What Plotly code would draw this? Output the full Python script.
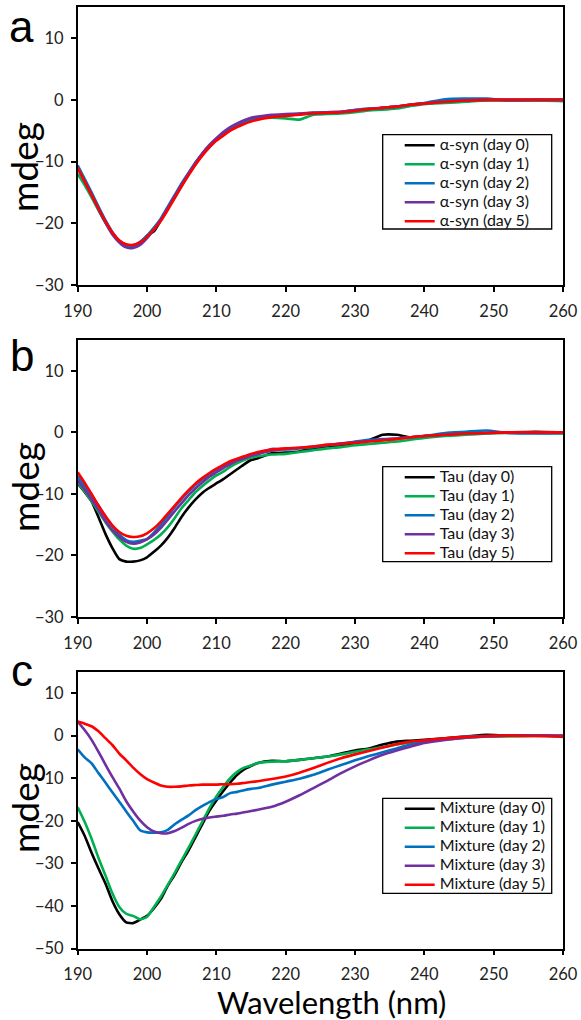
import plotly.graph_objects as go

# ---------------- data ----------------
wavelength = [190, 191, 192, 193, 194, 195, 196, 197, 198, 199, 200, 201, 202, 203, 204,
              205, 206, 207, 208, 209, 210, 211, 212, 213, 214, 215, 216, 218, 220, 222,
              224, 226, 228, 230, 232, 234, 236, 238, 240, 243, 246, 249, 252, 256, 260]

day_labels = ["day 0", "day 1", "day 2", "day 3", "day 5"]
colors = ["#000000", "#00b050", "#0070c0", "#7030a0", "#ff0000"]

# Panel a: alpha-syn
asyn_day0 = [-11.0, -13.2, -15.4, -17.7, -19.8, -21.6, -22.9, -23.6, -23.7, -23.2, -22.0, -21.3, -19.5, -17.6, -15.7,
             -13.8, -12.0, -10.3, -8.8, -7.5, -6.4, -5.5, -4.7, -4.1, -3.6, -3.2, -2.9, -2.5, -2.5, -2.3,
             -2.1, -2.1, -2.0, -1.8, -1.5, -1.3, -1.1, -0.8, -0.6, -0.3, -0.1, 0.0, 0.0, 0.0, 0.0]
asyn_day1 = [-12.0, -13.8, -15.8, -17.9, -19.9, -21.7, -22.9, -23.6, -23.7, -23.3, -22.3, -21.0, -19.5, -17.6, -15.8,
             -13.9, -12.1, -10.4, -8.9, -7.6, -6.5, -5.6, -4.8, -4.2, -3.7, -3.3, -3.0, -2.9, -3.0, -3.2,
             -2.4, -2.3, -2.2, -2.0, -1.7, -1.6, -1.4, -1.0, -0.7, -0.5, -0.3, -0.1, -0.1, -0.1, -0.2]
asyn_day2 = [-10.6, -12.8, -15.0, -17.3, -19.5, -21.4, -22.8, -23.5, -23.6, -23.0, -22.0, -20.7, -19.2, -17.3, -15.4,
             -13.5, -11.8, -10.1, -8.7, -7.4, -6.3, -5.4, -4.6, -4.0, -3.5, -3.1, -2.9, -2.6, -2.4, -2.3,
             -2.2, -2.1, -2.0, -1.6, -1.4, -1.3, -1.1, -0.8, -0.5, 0.1, 0.2, 0.2, -0.1, 0.0, 0.0]
asyn_day3 = [-11.0, -13.2, -15.4, -17.7, -19.9, -21.8, -23.1, -23.9, -24.0, -23.5, -22.4, -21.0, -19.4, -17.5, -15.6,
             -13.7, -11.9, -10.2, -8.6, -7.3, -6.2, -5.2, -4.4, -3.8, -3.3, -2.9, -2.7, -2.4, -2.3, -2.2,
             -2.1, -2.0, -1.9, -1.7, -1.5, -1.3, -1.1, -0.8, -0.6, -0.3, -0.1, 0.0, 0.0, 0.0, 0.0]
asyn_day5 = [-11.0, -13.2, -15.4, -17.6, -19.7, -21.5, -22.8, -23.4, -23.5, -23.1, -22.2, -21.0, -19.6, -17.8, -15.9,
             -14.0, -12.2, -10.5, -9.0, -7.7, -6.6, -5.8, -5.0, -4.4, -3.9, -3.5, -3.2, -2.8, -2.6, -2.4,
             -2.2, -2.1, -2.0, -1.8, -1.5, -1.3, -1.1, -0.8, -0.6, -0.3, -0.1, 0.0, 0.0, 0.0, 0.0]

# Panel b: Tau
tau_day0 = [-8.3, -9.7, -11.2, -13.8, -16.5, -18.8, -20.6, -21.0, -21.0, -20.8, -20.3, -19.4, -18.4, -17.1, -15.5,
            -13.7, -12.2, -10.9, -9.8, -9.0, -8.3, -7.6, -6.8, -6.0, -5.2, -4.5, -4.2, -3.4, -3.3, -3.1,
            -2.6, -2.4, -2.2, -1.8, -1.3, -0.4, -0.4, -0.8, -0.6, -0.4, -0.2, -0.1, 0.0, 0.1, 0.0]
tau_day1 = [-8.1, -9.6, -11.2, -12.9, -14.6, -16.1, -17.4, -18.4, -18.9, -18.8, -18.2, -17.5, -16.6, -15.4, -13.9,
            -12.3, -11.0, -9.7, -8.7, -7.8, -7.0, -6.4, -5.6, -5.0, -4.5, -4.1, -3.9, -3.6, -3.5, -3.2,
            -2.9, -2.6, -2.4, -2.1, -1.9, -1.7, -1.5, -1.2, -0.9, -0.6, -0.4, -0.2, -0.1, -0.1, -0.2]
tau_day2 = [-7.2, -8.7, -10.3, -11.9, -13.7, -15.3, -16.6, -17.5, -17.8, -17.6, -17.3, -16.3, -15.0, -13.6, -12.1,
            -10.8, -9.6, -8.5, -7.6, -6.8, -6.1, -5.5, -5.0, -4.5, -4.1, -3.8, -3.5, -2.7, -2.8, -2.6,
            -2.4, -2.1, -1.9, -1.5, -1.2, -1.1, -1.0, -0.8, -0.6, -0.1, 0.1, 0.3, -0.1, -0.2, -0.1]
tau_day3 = [-7.8, -9.3, -10.9, -12.6, -14.4, -15.9, -17.0, -17.8, -18.1, -17.9, -17.4, -16.6, -15.5, -14.2, -12.8,
            -11.5, -10.2, -9.1, -8.1, -7.2, -6.5, -5.8, -5.2, -4.6, -4.2, -3.8, -3.5, -3.0, -2.7, -2.5,
            -2.3, -2.1, -1.8, -1.6, -1.4, -1.2, -1.0, -0.8, -0.6, -0.4, -0.2, -0.1, 0.0, 0.0, 0.0]
tau_day5 = [-6.5, -8.2, -10.0, -11.9, -13.6, -15.1, -16.2, -16.8, -17.0, -16.9, -16.4, -15.6, -14.5, -13.2, -11.9,
            -10.6, -9.4, -8.3, -7.4, -6.6, -5.9, -5.3, -4.7, -4.3, -3.9, -3.5, -3.2, -2.8, -2.6, -2.5,
            -2.3, -2.0, -1.9, -1.7, -1.5, -1.3, -1.1, -0.8, -0.6, -0.4, -0.2, -0.1, 0.0, 0.0, 0.0]

# Panel c: Mixture
mix_day0 = [-20.3, -23.5, -27.5, -31.2, -34.7, -38.8, -41.9, -43.8, -44.0, -43.2, -42.3, -40.5, -38.3, -35.2, -32.6,
            -29.6, -26.9, -23.8, -20.7, -17.6, -15.2, -13.0, -11.0, -9.2, -7.9, -7.1, -6.4, -5.9, -6.0, -5.7,
            -5.3, -4.9, -4.2, -3.5, -3.0, -2.1, -1.4, -1.2, -1.0, -0.6, -0.2, 0.2, 0.0, 0.1, -0.1]
mix_day1 = [-16.8, -20.2, -24.2, -28.7, -32.8, -37.0, -40.2, -41.8, -42.3, -43.1, -42.5, -40.2, -37.8, -35.0, -32.2,
            -29.2, -26.3, -23.2, -20.1, -17.0, -14.3, -12.0, -10.0, -8.5, -7.5, -7.0, -6.4, -6.1, -6.0, -5.7,
            -5.3, -4.9, -4.4, -3.8, -3.2, -2.7, -2.1, -1.6, -1.2, -0.9, -0.5, -0.2, -0.2, -0.1, -0.1]
mix_day2 = [-3.2, -5.1, -6.5, -8.8, -11.0, -13.3, -15.5, -17.8, -20.0, -22.2, -22.7, -22.8, -22.7, -22.1, -20.8,
            -19.7, -18.7, -17.5, -16.5, -15.6, -14.9, -14.4, -13.5, -13.2, -12.8, -12.5, -12.3, -11.5, -10.8, -10.1,
            -9.2, -8.0, -6.9, -5.8, -4.8, -3.9, -3.0, -2.1, -1.5, -0.8, -0.2, -0.1, 0.0, 0.1, -0.3]
mix_day3 = [3.3, 1.3, -1.0, -3.8, -6.8, -9.7, -12.4, -15.4, -17.8, -19.9, -21.5, -22.5, -22.9, -22.9, -22.4,
            -21.6, -20.7, -20.0, -19.5, -19.2, -19.0, -18.8, -18.5, -18.3, -18.0, -17.7, -17.4, -16.7, -15.5, -14.0,
            -12.3, -10.6, -8.8, -7.2, -5.8, -4.5, -3.5, -2.6, -1.7, -1.0, -0.5, -0.2, 0.0, 0.0, 0.0]
mix_day5 = [3.3, 2.8, 2.2, 1.0, -0.6, -2.2, -4.2, -5.8, -7.5, -9.0, -10.2, -11.0, -11.7, -12.0, -12.0,
            -11.9, -11.7, -11.6, -11.5, -11.5, -11.5, -11.4, -11.4, -11.3, -11.1, -10.9, -10.7, -10.2, -9.6, -8.7,
            -7.6, -6.4, -5.3, -4.4, -3.6, -2.8, -2.0, -1.4, -1.1, -0.6, -0.3, -0.1, 0.0, -0.1, -0.2]

x_ticks = [190, 200, 210, 220, 230, 240, 250, 260]
y_range_ab = [-30, 15]
y_range_c = [-50, 15]

panels = [
    ("α-syn", [asyn_day0, asyn_day1, asyn_day2, asyn_day3, asyn_day5]),
    ("Tau", [tau_day0, tau_day1, tau_day2, tau_day3, tau_day5]),
    ("Mixture", [mix_day0, mix_day1, mix_day2, mix_day3, mix_day5]),
]

# ---------------- layout geometry (pixels) ----------------
W, H = 581, 1020
x_dom = [77.7 / W, 563 / W]
y_doms = [[1 - 285 / H, 1 - 7.3 / H],
          [1 - 617 / H, 1 - 340 / H],
          [1 - 948.7 / H, 1 - 671.7 / H]]
legend_frames = [(382.7, 134.7, 551.7, 229.0),
                 (382.7, 466.7, 551.7, 561.7),
                 (382.7, 798.3, 551.7, 893.3)]
mdeg_y = [167, 487, 808]

FONT = "Lato, 'Open Sans', sans-serif"
LETTER_FONT = "Liberation Sans, Arial, sans-serif"

fig = go.Figure()
for i, (name, series) in enumerate(panels):
    xa = "x" if i == 0 else f"x{i+1}"
    ya = "y" if i == 0 else f"y{i+1}"
    lg = "legend" if i == 0 else f"legend{i+1}"
    for vals, lab, col in zip(series, day_labels, colors):
        fig.add_trace(go.Scatter(
            x=wavelength, y=vals, mode="lines",
            name=f"<span style='font-size:16px'>{name} ({lab})</span>",
            line=dict(color=col, width=2.6, shape="spline", smoothing=0.6),
            xaxis=xa, yaxis=ya, legend=lg,
        ))

axis_common = dict(showline=True, linecolor="black", linewidth=1.5, mirror=True,
                   ticks="outside", ticklen=5, tickwidth=1.5, tickcolor="black",
                   showgrid=False, zeroline=False, automargin=False,
                   tickfont=dict(family=FONT, size=16.5, color="#222"))

layout = dict(width=W, height=H, margin=dict(l=0, r=0, t=0, b=0, autoexpand=False),
              paper_bgcolor="white", plot_bgcolor="white", showlegend=True,
              font=dict(family=FONT, color="black"))

shapes = []
for i in range(3):
    xk = "xaxis" if i == 0 else f"xaxis{i+1}"
    yk = "yaxis" if i == 0 else f"yaxis{i+1}"
    xanchor = "y" if i == 0 else f"y{i+1}"
    yanchor = "x" if i == 0 else f"x{i+1}"
    layout[xk] = dict(axis_common, domain=x_dom, anchor=xanchor, range=[190, 260],
                      tickmode="array", tickvals=x_ticks, ticklabelstandoff=5)
    yr = y_range_ab if i < 2 else y_range_c
    layout[yk] = dict(axis_common, domain=y_doms[i], anchor=yanchor, range=yr,
                      tickmode="linear", tick0=0, dtick=10, ticklabelstandoff=4)
    fx0, fy0, fx1, fy1 = legend_frames[i]
    shapes.append(dict(type="rect", xref="paper", yref="paper",
                       x0=fx0 / W, x1=fx1 / W, y0=1 - fy1 / H, y1=1 - fy0 / H,
                       line=dict(color="black", width=1.3), fillcolor="white", layer="above"))
    lk = "legend" if i == 0 else f"legend{i+1}"
    layout[lk] = dict(x=(fx0 + 17) / W, y=1 - (fy0 - 4) / H, xanchor="left", yanchor="top",
                      bgcolor="rgba(0,0,0,0)", borderwidth=0,
                      font=dict(family=FONT, size=12, color="#111"),
                      itemwidth=30, tracegroupgap=0)

fig.update_layout(**layout)
fig.update_layout(shapes=shapes)

annotations = []
annotations.append(dict(text="a", x=21 / W, y=1.0, xref="paper", yref="paper", showarrow=False,
                        xanchor="center", yanchor="top",
                        font=dict(family=LETTER_FONT, size=44, color="black")))
annotations.append(dict(text="b", x=22 / W, y=1 - 355 / H, xref="paper", yref="paper", showarrow=False,
                        xanchor="center", yanchor="middle",
                        font=dict(family=LETTER_FONT, size=44, color="black")))
annotations.append(dict(text="c", x=22 / W, y=1 - 670 / H, xref="paper", yref="paper", showarrow=False,
                        xanchor="center", yanchor="middle",
                        font=dict(family=LETTER_FONT, size=44, color="black")))
for i in range(3):
    annotations.append(dict(text="mdeg", x=24 / W, y=1 - mdeg_y[i] / H,
                            xref="paper", yref="paper", showarrow=False, textangle=-90,
                            xanchor="center", yanchor="middle",
                            font=dict(family=FONT, size=37, color="black")))
annotations.append(dict(text="Wavelength (nm)", x=331 / W, y=1 - 1002 / H,
                        xref="paper", yref="paper", showarrow=False,
                        xanchor="center", yanchor="middle",
                        font=dict(family=FONT, size=31, color="black")))
fig.update_layout(annotations=annotations)

fig.write_html("out.html", config={"displayModeBar": False},
               post_script="document.body.style.margin='0px';")
